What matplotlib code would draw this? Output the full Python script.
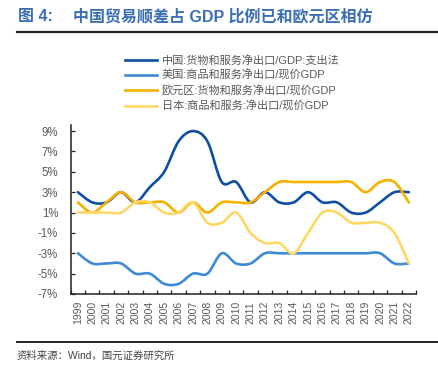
import matplotlib
matplotlib.use("Agg")
import matplotlib.pyplot as plt
import numpy as np
from matplotlib.path import Path
from matplotlib.patches import PathPatch
from matplotlib.lines import Line2D

plt.rcParams['font.family'] = ['Liberation Sans', 'Noto Sans CJK SC', 'DejaVu Sans']

years = [str(y) for y in range(1999, 2023)]
china = [3, 2, 2, 3, 2, 3.5, 5, 8, 9, 8, 4, 4, 2, 3, 2, 2, 3, 2, 2, 1, 1, 2, 3, 3]
usa = [-3, -4, -4, -4, -5, -5, -6, -6, -5, -5, -3, -4, -4, -3, -3, -3, -3, -3, -3, -3, -3, -3, -4, -4]
euro = [2, 1, 2, 3, 2, 2, 2, 1, 2, 1, 2, 2, 2, 3, 4, 4, 4, 4, 4, 4, 3, 4, 4, 2]
japan = [1, 1, 1, 1, 2, 2, 1, 1, 2, 0, 0, 1, -1, -2, -2, -3, -1, 1, 1, 0, 0, 0, -1, -4]

labels = ['中国:货物和服务净出口/GDP:支出法',
          '美国:商品和服务净出口/现价GDP',
          '欧元区:货物和服务净出口/现价GDP',
          '日本:商品和服务:净出口/现价GDP']
colors = ['#0F4FA3', '#3E8AD4', '#F5B000', '#FFD767']
yticks = [-7, -5, -3, -1, 1, 3, 5, 7, 9]

fig = plt.figure(figsize=(4.39, 3.75), dpi=100)
ax = fig.add_axes([70.7/439, 81/375, (416-70.7)/439, (294-125)/375])


def smooth_path(xs, ys):
    pts = np.column_stack([xs, ys]).astype(float)
    n = len(pts)
    verts = [pts[0]]
    codes = [Path.MOVETO]
    for i in range(n - 1):
        p0 = pts[i - 1] if i > 0 else pts[i]
        p1 = pts[i]
        p2 = pts[i + 1]
        p3 = pts[i + 2] if i + 2 < n else pts[i + 1]
        c1 = p1 + (p2 - p0) / 6.0
        c2 = p2 - (p3 - p1) / 6.0
        verts += [c1, c2, p2]
        codes += [Path.CURVE4] * 3
    return Path(verts, codes)


x = np.arange(len(years))
handles = []
for series, col, lab in zip([china, usa, euro, japan], colors, labels):
    patch = PathPatch(smooth_path(x, series), fill=False, edgecolor=col,
                      linewidth=1.9, capstyle='round', joinstyle='round')
    ax.add_patch(patch)
    handles.append(Line2D([], [], color=col, linewidth=1.9, label=lab))

ax.set_xlim(-0.5, len(years) - 0.5)
ax.set_ylim(-7, 9.6)
ax.set_yticks(yticks)
ax.set_yticklabels([f'{v}%' for v in yticks])
ax.set_xticks(x)
ax.set_xticklabels(years, rotation=90)
ax.set_xticks(np.arange(-0.5, len(years)), minor=True)
ax.tick_params(axis='x', which='major', length=0, pad=5, labelsize=7.5, labelcolor='#595959')
ax.tick_params(axis='x', which='minor', length=3, direction='in', width=0.9, color='#222222')
ax.tick_params(axis='y', length=3, direction='in', width=0.9, color='#222222',
               labelsize=8.3, labelcolor='#595959', pad=9)
for s in ['top', 'right']:
    ax.spines[s].set_visible(False)
for s in ['left', 'bottom']:
    ax.spines[s].set_linewidth(1.1)
    ax.spines[s].set_color('#222222')

fig.legend(handles=handles, loc='upper left', bbox_to_anchor=(125/439, 1 - 55/375),
           frameon=False, fontsize=8, handlelength=2.9, handletextpad=0.4,
           labelspacing=0.38, borderaxespad=0, borderpad=0, labelcolor='#595959')

fig.text(18/439, 1 - 16.5/375, '图 4:', fontsize=11.5,
         fontweight='bold', color='#3A6EB5', va='center', ha='left')
fig.text(73/439, 1 - 16.5/375, '中国贸易顺差占 GDP 比例已和欧元区相仿', fontsize=11.5,
         fontweight='bold', color='#3A6EB5', va='center', ha='left')
fig.add_artist(Line2D([17/439, 1], [1 - 31.5/375, 1 - 31.5/375], color='#222222', linewidth=1.6,
                      transform=fig.transFigure))
fig.add_artist(Line2D([17/439, 1], [1 - 342/375, 1 - 342/375], color='#222222', linewidth=1.4,
                      transform=fig.transFigure))
fig.text(17/439, 1 - 356/375, '资料来源：Wind，国元证券研究所', fontsize=7.5,
         color='#444444', va='center', ha='left')

fig.savefig('out.png', dpi=100)
